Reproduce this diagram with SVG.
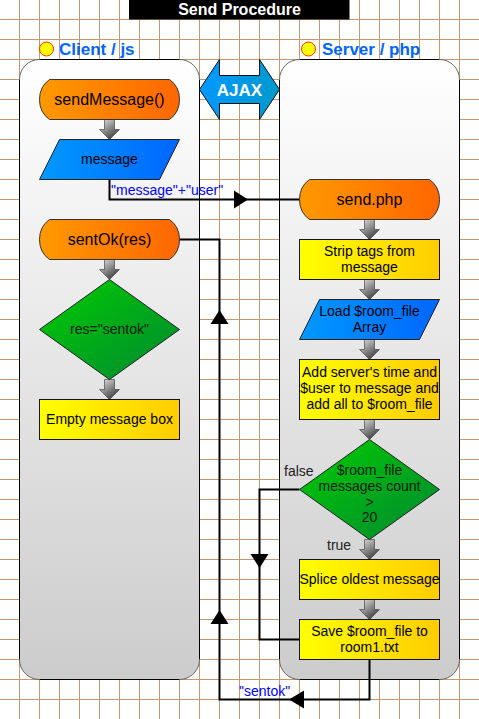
<svg xmlns="http://www.w3.org/2000/svg" width="479" height="719" viewBox="0 0 479 719">
<defs>
<linearGradient id="gLane" x1="0" y1="0" x2="0" y2="1"><stop offset="0" stop-color="#ffffff"/><stop offset="1" stop-color="#cccccc"/></linearGradient>
<linearGradient id="gOrange" x1="0" y1="0" x2="1" y2="0"><stop offset="0" stop-color="#ff9900"/><stop offset="1" stop-color="#ff6600"/></linearGradient>
<linearGradient id="gBlue" x1="0" y1="0" x2="1" y2="0"><stop offset="0" stop-color="#0099ff"/><stop offset="1" stop-color="#0066ff"/></linearGradient>
<linearGradient id="gAjax" x1="0" y1="0" x2="1" y2="0"><stop offset="0" stop-color="#0099ff"/><stop offset="1" stop-color="#0099cc"/></linearGradient>
<linearGradient id="gYellow" x1="0" y1="0" x2="1" y2="0"><stop offset="0" stop-color="#ffff00"/><stop offset="1" stop-color="#ffcc00"/></linearGradient>
<linearGradient id="gGreen" x1="0" y1="0" x2="1" y2="1"><stop offset="0" stop-color="#00cc00"/><stop offset="1" stop-color="#008833"/></linearGradient>
<linearGradient id="gGray" x1="0" y1="0" x2="0.7" y2="1"><stop offset="0" stop-color="#e6e6e6"/><stop offset="1" stop-color="#3a3a3a"/></linearGradient>
<path id="blk" d="M-5,0 H5 V10 H10 L0,20 L-10,10 H-5 Z"/>
</defs>
<style>
.grid line{stroke:#c4976c;stroke-width:1}
.lane{fill:url(#gLane)}
.edge{stroke:#000;stroke-width:1;fill:none}
.arc{stroke:#666;stroke-width:1;fill:none}
.term{fill:url(#gOrange);stroke:#333;stroke-width:1}
.io{fill:url(#gBlue);stroke:#222;stroke-width:1}
.proc{fill:url(#gYellow);stroke:#111;stroke-width:1}
.dec{fill:url(#gGreen);stroke:#222;stroke-width:1}
.flow{fill:url(#gGray);stroke:#333;stroke-width:0.6}
text{font-family:"Liberation Sans",Arial,sans-serif;text-anchor:middle;fill:#000}
.t16{font-size:16px}
.t14{font-size:14px}
.dt{font-size:14px;fill:#0a1a0a}
.title{font-size:17px;font-weight:bold;fill:#0066ff;text-anchor:start}
.lbl{font-size:14px;fill:#0000ff;text-anchor:start}
.cond{font-size:14px;fill:#222;text-anchor:start}
.conn{stroke:#000;stroke-width:2;fill:none}
.head{fill:#000}
</style>
<rect width="479" height="719" fill="#fff"/>
<g class="grid">
<line x1="19.5" y1="0" x2="19.5" y2="719"/><line x1="39.5" y1="0" x2="39.5" y2="719"/><line x1="59.5" y1="0" x2="59.5" y2="719"/><line x1="79.5" y1="0" x2="79.5" y2="719"/><line x1="99.5" y1="0" x2="99.5" y2="719"/><line x1="119.5" y1="0" x2="119.5" y2="719"/><line x1="139.5" y1="0" x2="139.5" y2="719"/><line x1="159.5" y1="0" x2="159.5" y2="719"/><line x1="179.5" y1="0" x2="179.5" y2="719"/><line x1="199.5" y1="0" x2="199.5" y2="719"/><line x1="219.5" y1="0" x2="219.5" y2="719"/><line x1="239.5" y1="0" x2="239.5" y2="719"/><line x1="259.5" y1="0" x2="259.5" y2="719"/><line x1="279.5" y1="0" x2="279.5" y2="719"/><line x1="299.5" y1="0" x2="299.5" y2="719"/><line x1="319.5" y1="0" x2="319.5" y2="719"/><line x1="339.5" y1="0" x2="339.5" y2="719"/><line x1="359.5" y1="0" x2="359.5" y2="719"/><line x1="379.5" y1="0" x2="379.5" y2="719"/><line x1="399.5" y1="0" x2="399.5" y2="719"/><line x1="419.5" y1="0" x2="419.5" y2="719"/><line x1="439.5" y1="0" x2="439.5" y2="719"/><line x1="459.5" y1="0" x2="459.5" y2="719"/>
<line x1="0" y1="19.5" x2="479" y2="19.5"/><line x1="0" y1="39.5" x2="479" y2="39.5"/><line x1="0" y1="59.5" x2="479" y2="59.5"/><line x1="0" y1="79.5" x2="479" y2="79.5"/><line x1="0" y1="99.5" x2="479" y2="99.5"/><line x1="0" y1="119.5" x2="479" y2="119.5"/><line x1="0" y1="139.5" x2="479" y2="139.5"/><line x1="0" y1="159.5" x2="479" y2="159.5"/><line x1="0" y1="179.5" x2="479" y2="179.5"/><line x1="0" y1="199.5" x2="479" y2="199.5"/><line x1="0" y1="219.5" x2="479" y2="219.5"/><line x1="0" y1="239.5" x2="479" y2="239.5"/><line x1="0" y1="259.5" x2="479" y2="259.5"/><line x1="0" y1="279.5" x2="479" y2="279.5"/><line x1="0" y1="299.5" x2="479" y2="299.5"/><line x1="0" y1="319.5" x2="479" y2="319.5"/><line x1="0" y1="339.5" x2="479" y2="339.5"/><line x1="0" y1="359.5" x2="479" y2="359.5"/><line x1="0" y1="379.5" x2="479" y2="379.5"/><line x1="0" y1="399.5" x2="479" y2="399.5"/><line x1="0" y1="419.5" x2="479" y2="419.5"/><line x1="0" y1="439.5" x2="479" y2="439.5"/><line x1="0" y1="459.5" x2="479" y2="459.5"/><line x1="0" y1="479.5" x2="479" y2="479.5"/><line x1="0" y1="499.5" x2="479" y2="499.5"/><line x1="0" y1="519.5" x2="479" y2="519.5"/><line x1="0" y1="539.5" x2="479" y2="539.5"/><line x1="0" y1="559.5" x2="479" y2="559.5"/><line x1="0" y1="579.5" x2="479" y2="579.5"/><line x1="0" y1="599.5" x2="479" y2="599.5"/><line x1="0" y1="619.5" x2="479" y2="619.5"/><line x1="0" y1="639.5" x2="479" y2="639.5"/><line x1="0" y1="659.5" x2="479" y2="659.5"/><line x1="0" y1="679.5" x2="479" y2="679.5"/><line x1="0" y1="699.5" x2="479" y2="699.5"/>
</g>
<g id="header">
<rect x="129" y="0" width="220.5" height="19.5" fill="#000"/>
<text x="239.5" y="15" style="font-size:16px;font-weight:bold;fill:#fff">Send Procedure</text>
</g>
<g id="lane-client">
<rect class="lane" x="19.5" y="59.5" width="180" height="620" rx="20" ry="20"/>
<path class="edge" d="M39.5,59.5 H179.5 M199.5,79.5 V659.5 M179.5,679.5 H39.5 M19.5,659.5 V79.5"/>
<path class="arc" d="M19.5,79.5 A20,20 0 0 1 39.5,59.5 M179.5,59.5 A20,20 0 0 1 199.5,79.5 M199.5,659.5 A20,20 0 0 1 179.5,679.5 M39.5,679.5 A20,20 0 0 1 19.5,659.5"/>
<circle cx="46.5" cy="49" r="7" fill="#ffff00" stroke="#ff3300" stroke-width="1"/>
<text class="title" x="59" y="55">Client / js</text>
</g>
<g id="lane-server">
<rect class="lane" x="279.5" y="59.5" width="180" height="620" rx="20" ry="20"/>
<path class="edge" d="M299.5,59.5 H439.5 M459.5,79.5 V659.5 M439.5,679.5 H299.5 M279.5,659.5 V79.5"/>
<path class="arc" d="M279.5,79.5 A20,20 0 0 1 299.5,59.5 M439.5,59.5 A20,20 0 0 1 459.5,79.5 M459.5,659.5 A20,20 0 0 1 439.5,679.5 M299.5,679.5 A20,20 0 0 1 279.5,659.5"/>
<circle cx="308.5" cy="49" r="7" fill="#ffff00" stroke="#ff3300" stroke-width="1"/>
<text class="title" x="322" y="55">Server / php</text>
</g>
<g id="ajax">
<path d="M199.5,89.5 L219.5,59.5 V75.5 H259.5 V59.5 L279.5,89.5 L259.5,119.5 V103.5 H219.5 V119.5 Z" fill="url(#gAjax)" stroke="#111" stroke-width="1"/>
<text x="239.5" y="95.5" style="font-size:17px;font-weight:bold;fill:#fff">AJAX</text>
</g>
<g id="connectors">
<path class="conn" d="M109.5,179.5 V199.5 H299.5"/>
<polygon class="head" points="248,199.5 234,190.5 234,208.5"/>
<path class="conn" d="M369.5,659.5 V699.5 H219.5 V239.5 H179.5"/>
<polygon class="head" points="289,699.5 304,690.5 304,708.5"/>
<polygon class="head" points="219.5,610 210.5,624 228.5,624"/>
<polygon class="head" points="219.5,310 210.5,324 228.5,324"/>
<path class="conn" d="M299.5,489.5 H259.5 V639.5 H299.5"/>
<polygon class="head" points="259.5,568 250.5,554 268.5,554"/>
<text class="lbl" x="111" y="195">"message"+"user"</text>
<text class="lbl" x="239" y="696">"sentok"</text>
<text class="cond" x="284" y="476">false</text>
<text class="cond" x="327" y="550">true</text>
<use href="#blk" class="flow" x="109.5" y="119.5"/>
<use href="#blk" class="flow" x="109.5" y="259.5"/>
<use href="#blk" class="flow" x="109.5" y="379.5"/>
<use href="#blk" class="flow" x="369.5" y="219.5"/>
<use href="#blk" class="flow" x="369.5" y="279.5"/>
<use href="#blk" class="flow" x="369.5" y="339.5"/>
<use href="#blk" class="flow" x="369.5" y="419.5"/>
<use href="#blk" class="flow" x="369.5" y="539.5"/>
<use href="#blk" class="flow" x="369.5" y="599.5"/>
</g>
<g id="sendMessage">
<path class="term" d="M49.5,79.5 H169.5 Q179.5,86.5 179.5,99.5 Q179.5,112.5 169.5,119.5 H49.5 Q39.5,112.5 39.5,99.5 Q39.5,86.5 49.5,79.5 Z"/>
<text class="t16" x="109.5" y="104.5">sendMessage()</text>
</g>
<g id="message">
<polygon class="io" points="59.5,139.5 179.5,139.5 159.5,179.5 39.5,179.5"/>
<text class="t14" x="109.5" y="164">message</text>
</g>
<g id="sentOk">
<path class="term" d="M49.5,219.5 H169.5 Q179.5,226.5 179.5,239.5 Q179.5,252.5 169.5,259.5 H49.5 Q39.5,252.5 39.5,239.5 Q39.5,226.5 49.5,219.5 Z"/>
<text class="t16" x="109.5" y="244.5">sentOk(res)</text>
</g>
<g id="resCheck">
<polygon class="dec" points="109.5,279.5 179.5,329.5 109.5,379.5 39.5,329.5"/>
<text class="dt" x="109.5" y="334">res="sentok"</text>
</g>
<g id="emptyBox">
<rect class="proc" x="39.5" y="399.5" width="140" height="40"/>
<text class="t14" x="109.5" y="424">Empty message box</text>
</g>
<g id="sendPhp">
<path class="term" d="M309.5,179.5 H429.5 Q439.5,186.5 439.5,199.5 Q439.5,212.5 429.5,219.5 H309.5 Q299.5,212.5 299.5,199.5 Q299.5,186.5 309.5,179.5 Z"/>
<text class="t16" x="369.5" y="204.5">send.php</text>
</g>
<g id="stripTags">
<rect class="proc" x="299.5" y="239.5" width="140" height="40"/>
<text class="t14" x="369.5" y="256">Strip tags from</text>
<text class="t14" x="369.5" y="272">message</text>
</g>
<g id="loadRoom">
<polygon class="io" points="319.5,299.5 439.5,299.5 419.5,339.5 299.5,339.5"/>
<text class="t14" x="369.5" y="316">Load $room_file</text>
<text class="t14" x="369.5" y="332">Array</text>
</g>
<g id="addTime">
<rect class="proc" x="299.5" y="359.5" width="140" height="60"/>
<text class="t14" x="369.5" y="377">Add server's time and</text>
<text class="t14" x="369.5" y="393">$user to message and</text>
<text class="t14" x="369.5" y="409">add all to $room_file</text>
</g>
<g id="countCheck">
<polygon class="dec" points="369.5,439.5 439.5,489.5 369.5,539.5 299.5,489.5"/>
<text class="dt" x="369.5" y="475">$room_file</text>
<text class="dt" x="369.5" y="491">messages count</text>
<text class="dt" x="369.5" y="507">&gt;</text>
<text class="dt" x="369.5" y="522">20</text>
</g>
<g id="splice">
<rect class="proc" x="299.5" y="559.5" width="140" height="40"/>
<text class="t14" x="369.5" y="584">Splice oldest message</text>
</g>
<g id="save">
<rect class="proc" x="299.5" y="619.5" width="140" height="40"/>
<text class="t14" x="369.5" y="636">Save $room_file to</text>
<text class="t14" x="369.5" y="652">room1.txt</text>
</g>
</svg>
